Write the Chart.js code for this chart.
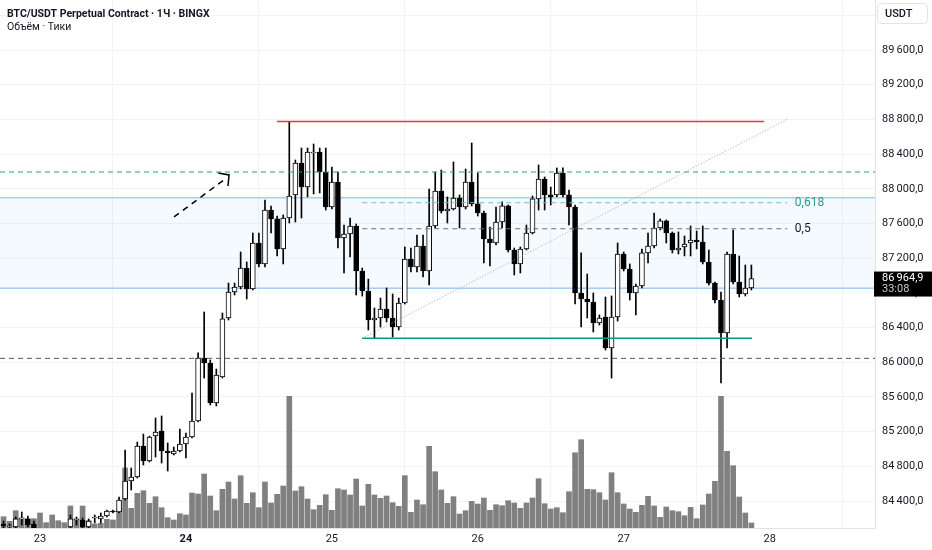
<!DOCTYPE html>
<html>
<head>
<meta charset="utf-8">
<script src="https://cdn.jsdelivr.net/npm/chart.js@4.4.1/dist/chart.umd.min.js"></script>
<style>
  html, body { margin: 0; padding: 0; background: #fff; overflow: hidden; }
  canvas { display: block; }
</style>
</head>
<body>
<canvas id="myChart" width="932" height="550"></canvas>
<script>
// BTC/USDT 1h candles, 22 Jul 18:00 -> 27 Jul 21:00 (index 0..123)
const opens = [84135,84100,84100,84193,84193,84135,84070,83996,83950,83985,
  84020,84100,84181,84181,84100,84204,84193,84227,84285,84273,
  84423,84631,84677,85034,84861,85149,85207,84976,84942,84976,
  85057,85138,85322,86049,85991,85530,85830,86510,86810,86867,
  87086,86844,87375,87133,87755,87652,87306,87663,87929,88297,
  88020,88412,88424,88193,87790,88078,87432,87478,87571,87052,
  86821,86487,86510,86614,86510,86406,86683,87190,87098,87340,
  87052,87571,87974,87744,87767,87894,87790,88078,87825,87721,
  87421,87375,87617,87802,87294,87133,87306,87490,87883,88113,
  87929,87929,88182,87929,87790,86798,86729,86694,86452,86521,
  86164,86521,87248,87075,86798,86879,87260,87340,87548,87629,
  87490,87294,87329,87375,87409,87386,87156,86913,86718,86337,
  87248,86925,86787,86856];
const highs = [84169,84135,84216,84273,84227,84169,84080,84043,84031,84054,
  84085,84239,84216,84204,84193,84239,84262,84296,84296,84446,
  84988,84780,85080,85172,85149,85357,85380,85069,85022,85230,
  85184,85645,86107,86579,86026,85922,86568,86913,86913,87271,
  87156,87490,87490,87871,87801,87686,87698,88775,88332,88470,
  88470,88516,88470,88470,88251,88193,87582,87663,87594,87086,
  86959,86625,86740,86856,86787,86740,87329,87317,87467,87467,
  87997,88193,88216,87906,88309,87929,88228,88528,88182,87744,
  87559,87790,87848,87813,87317,87329,87582,87917,88274,88136,
  88020,88240,88240,87986,87813,87260,87017,86798,86545,86752,
  86764,87375,87271,87133,86902,87306,87490,87721,87652,87640,
  87502,87502,87455,87571,87513,87571,87294,86925,86810,87271,
  87525,87225,87121,87121];
const lows = [84066,84054,84077,84123,84100,84054,83950,83893,83904,83939,
  83980,84077,84123,84077,84077,84146,84146,84216,84262,84262,
  84412,84527,84665,84815,84850,84907,84838,84746,84930,84965,
  84896,85126,85311,85818,85507,85495,85818,86487,86775,86844,
  86729,86833,87098,87098,87490,87225,87133,87606,87617,87663,
  87906,87940,87952,87755,87767,87317,87029,87213,86775,86763,
  86372,86280,86406,86464,86291,86372,86671,87040,87040,86983,
  86890,87548,87721,87606,87755,87548,87767,87802,87686,87144,
  87110,87352,87548,87271,87006,87029,87294,87478,87755,87755,
  87813,87906,87906,87582,86671,86406,86510,86349,86429,86141,
  85818,86475,87052,86718,86545,86856,87144,87317,87525,87375,
  87260,87248,87225,87225,87306,87133,86890,86683,85761,86164,
  86902,86752,86764,86833];
const closes = [84112,84112,84193,84197,84123,84089,83996,83950,83985,84020,
  84075,84193,84185,84100,84169,84208,84227,84285,84273,84412,
  84631,84677,85034,84861,85138,85195,84976,84953,84976,85057,
  85138,85322,86049,85991,85530,85853,86499,86810,86867,87086,
  86844,87375,87133,87755,87652,87306,87663,87917,88297,88020,
  88424,88424,88193,87790,88078,87432,87478,87571,87052,86821,
  86487,86510,86614,86510,86406,86683,87190,87098,87340,87052,
  87571,87974,87744,87767,87894,87790,88078,87825,87721,87421,
  87375,87617,87802,87294,87133,87306,87490,87883,88113,87929,
  87906,88182,87929,87790,86798,86729,86694,86452,86510,86164,
  86521,87248,87075,86798,86879,87260,87340,87548,87629,87490,
  87294,87317,87363,87409,87386,87156,86913,86718,86337,87248,
  86925,86787,86856,86964.9];
// volume, relative bar heights
const volumes = [11.3,6.7,17.3,9,9,9.3,15,5.3,13,7.3,
  5.3,22,9,22,7.3,4,4.7,8.7,8,19,
  60,19.7,34.7,37.3,24.7,31.3,20.3,10.3,8,14.3,
  13,35,34,54,32,17.3,38.7,46,29,52.3,
  24.7,35.3,20.3,46,25,33.7,42,131.7,37,41.3,
  29,18.3,22.7,33.3,17.7,39.3,38,33,49,22,
  43.7,33,29.7,32,25.3,21.7,52.3,15.7,28,23.3,
  81.7,56.3,38,24.7,31.3,14,17.3,26.7,24,30,
  17.7,23.3,22.3,27.3,25,19.7,25,30,49.3,24.3,
  19,20.3,15.3,36.3,75.3,88.3,38.7,38.3,35.3,28,
  55.3,35.3,24,19,15.7,22.7,31.7,22,10.7,21,
  17.3,16.3,12.3,20.7,9.3,23,34,46.7,131.7,76.7,
  62.3,31,15,5];

// axis ticks
const dayTicks = [6, 30, 54, 78, 102, 126];
const dayLabels = ['23', '24', '25', '26', '27', '28'];
const priceTicks = [84400,84800,85200,85600,86000,86400,86800,87200,87600,88000,88400,88800,89200,89600,90000];

// drawing levels (prices)
const resistance = 88775;
const support = 86276;
const tealLevel = 88193;
const grayLevel = 86045;
const bandTop = 87897;
const bandBottom = 86852;
const fib618 = 87839;
const fib50 = 87539;
const trendStart = 86276;
const trendEnd = 88804;
const arrowFrom = 87675;
const arrowTo = 88159;

const xMin = -0.58, xMax = 143.33;
const yMin = 84088.7, yMax = 90176.5;

function fmtPrice(v) {
  const parts = v.toFixed(1).split('.');
  return parts[0].replace(/\B(?=(\d{3})+(?!\d))/g, '\u2009') + ',' + parts[1];
}

const bodyColors = closes.map((c, i) => c >= opens[i] ? '#ffffff' : '#000000');

function hLine(x0, x1, y, color, dash, width, order) {
  return {
    type: 'line', data: [{x: x0, y: y}, {x: x1, y: y}],
    borderColor: color, borderWidth: width, borderDash: dash,
    pointRadius: 0, fill: false, order: order, yAxisID: 'y'
  };
}

function noPad(s) {
  s.paddingTop = 0; s.paddingBottom = 0; s.paddingLeft = 0; s.paddingRight = 0;
}

const overlay = {
  id: 'overlay',
  afterDraw(chart) {
    const c = chart.ctx;
    const x = chart.scales.x, y = chart.scales.y;
    c.save();
    // header
    c.fillStyle = '#131722';
    c.textBaseline = 'alphabetic';
    c.textAlign = 'left';
    c.font = 'bold 10.5px Roboto';
    c.fillText('BTC/USDT Perpetual Contract · 1Ч · BINGX', 7, 16.5);
    c.font = '10.5px Roboto';
    c.fillText('Объём · Тики', 7, 29.5);

    // fib labels
    c.font = '12px Roboto';
    c.textBaseline = 'middle';
    c.fillStyle = '#22a08a';
    c.fillText('0,618', x.getPixelForValue(129) + 7, y.getPixelForValue(fib618));
    c.fillStyle = '#131722';
    c.fillText('0,5', x.getPixelForValue(129) + 7, y.getPixelForValue(fib50));

    // USDT box
    c.fillStyle = '#ffffff';
    c.strokeStyle = '#e0e3eb';
    c.lineWidth = 1;
    c.beginPath();
    c.roundRect(877.5, 3.5, 50, 20, 4);
    c.fill();
    c.stroke();
    c.fillStyle = '#131722';
    c.font = '500 11px Roboto';
    c.fillText('USDT', 885, 14);

    // last price label
    const last = closes[closes.length - 1];
    const py = y.getPixelForValue(last);
    c.fillStyle = '#000000';
    c.fillRect(874, py - 7, 58, 25);
    c.fillStyle = '#ffffff';
    c.font = '11px Roboto';
    c.fillText(fmtPrice(last), 882, py);
    c.fillStyle = '#c8c8c8';
    c.fillText('33:08', 882, py + 11);
    c.restore();
  }
};

const idx = opens.map((o, i) => i);

new Chart(document.getElementById('myChart'), {
  type: 'bar',
  data: {
    datasets: [
      // blue range band
      {
        type: 'line', data: [{x: xMin, y: bandTop}, {x: xMax, y: bandTop}],
        borderColor: '#a9cdf5', borderWidth: 1.5, pointRadius: 0,
        fill: '+1', backgroundColor: 'rgba(33,150,243,0.05)', order: 20
      },
      {
        type: 'line', data: [{x: xMin, y: bandBottom}, {x: xMax, y: bandBottom}],
        borderColor: '#a9cdf5', borderWidth: 1.5, pointRadius: 0,
        fill: false, order: 20
      },
      // volume
      {
        data: idx.map(i => ({x: i, y: volumes[i]})),
        yAxisID: 'vol', backgroundColor: '#808080',
        barThickness: 5, grouped: false, order: 15
      },
      // wicks
      {
        data: idx.map(i => ({x: i, y: [lows[i], highs[i]]})),
        yAxisID: 'y', backgroundColor: '#000000',
        barThickness: 1, grouped: false, order: 2
      },
      // bodies
      {
        data: idx.map(i => ({x: i, y: [opens[i], closes[i]]})),
        yAxisID: 'y', backgroundColor: bodyColors,
        borderColor: '#000000', borderWidth: 1, borderSkipped: false,
        barThickness: 5, minBarLength: 1, grouped: false, order: 1
      },
      // drawings
      hLine(xMin, xMax, tealLevel, '#1f9e8b', [5, 4], 1, 0),
      hLine(xMin, xMax, grayLevel, '#50535e', [5, 4], 1, 0),
      hLine(59, 128.9, fib618, '#6cc3b3', [5, 4], 1, 0),
      hLine(59, 128.9, fib50, '#6a6d78', [5, 4], 1, 0),
      hLine(45, 125.1, resistance, '#e53935', [], 1.5, 0),
      hLine(59, 123.1, support, '#089981', [], 1.5, 0),
      {
        type: 'line', data: [{x: 59, y: trendStart}, {x: 129, y: trendEnd}],
        borderColor: '#a0a3ab', borderWidth: 1, borderDash: [1, 2],
        pointRadius: 0, fill: false, order: 0
      },
      {
        type: 'line', data: [{x: 28.04, y: arrowFrom}, {x: 36.6, y: 88120}],
        borderColor: '#000000', borderWidth: 1.5, borderDash: [6, 5],
        pointRadius: 0, fill: false, order: 0
      },
      {
        type: 'line', data: [{x: 35.3, y: 88182}, {x: 37.09, y: arrowTo}, {x: 36.92, y: 88032}],
        borderColor: '#000000', borderWidth: 1.5,
        pointRadius: 0, fill: false, order: 0
      }
    ]
  },
  options: {
    responsive: false,
    animation: false,
    layout: { padding: 0 },
    plugins: { legend: { display: false }, tooltip: { enabled: false } },
    scales: {
      x: {
        type: 'linear', min: xMin, max: xMax, offset: false,
        afterBuildTicks: s => { s.ticks = dayTicks.map(v => ({value: v})); },
        afterFit: s => { s.height = 22; noPad(s); },
        ticks: {
          autoSkip: false, maxRotation: 0, padding: 5, color: '#131722',
          callback: v => dayLabels[dayTicks.indexOf(v)],
          font: ctx => ({ family: 'Roboto', size: 11, weight: ctx.tick && ctx.tick.value === 30 ? 'bold' : 'normal' })
        },
        grid: { color: '#f0f3fa', drawTicks: false },
        border: { color: '#e0e3eb' }
      },
      y: {
        position: 'right', min: yMin, max: yMax,
        afterBuildTicks: s => { s.ticks = priceTicks.map(v => ({value: v})); },
        afterFit: s => { s.width = 57; noPad(s); },
        ticks: {
          padding: 7, color: '#131722',
          font: { family: 'Roboto', size: 11 },
          callback: v => fmtPrice(v)
        },
        grid: { color: '#f0f3fa', drawTicks: false },
        border: { color: '#e0e3eb' }
      },
      vol: { display: false, min: 0, max: 528 }
    }
  },
  plugins: [overlay]
});
</script>
</body>
</html>
